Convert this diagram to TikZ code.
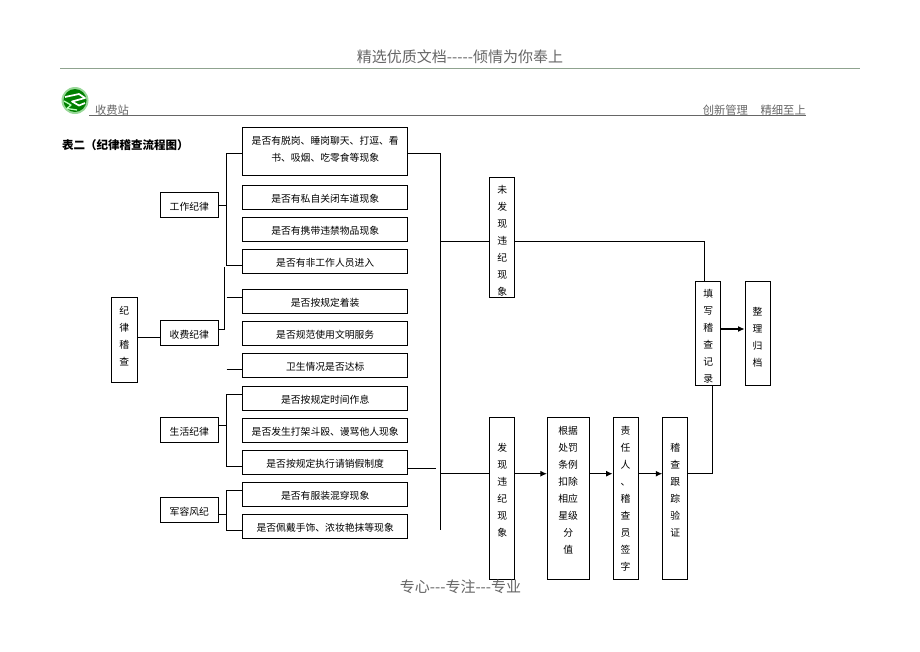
\documentclass[tikz,border=0pt]{standalone}
\usepackage{fontspec}
\setmainfont{Noto Sans CJK SC}
\usetikzlibrary{arrows.meta}
\newcommand\stk[3]{\parbox[c][#1pt][t]{20pt}{\centering\vspace*{#2pt}#3}}
\definecolor{hdr}{HTML}{666666}
\definecolor{rulegreen}{HTML}{8FA38F}
\tikzset{
  x=1pt,y=-1pt,
  bx/.style={draw=black,line width=0.9pt,fill=white,inner sep=0pt,align=center,font=\fontsize{9.8}{17}\selectfont},
  wide/.style={bx,minimum width=165pt,minimum height=24pt,text height=10.5pt,text depth=0pt},
  mid/.style={bx,minimum width=58pt,minimum height=24.5pt,text height=10.5pt,text depth=0pt},
  nar/.style={bx,minimum width=25pt},
  ln/.style={draw=black,line width=0.8pt},
  ar/.style={draw=black,line width=1.1pt,-{Latex[length=6.5pt,width=6pt]}},
  head/.style={inner sep=0pt,text=hdr,font=\fontsize{15}{17}\selectfont},
  small/.style={inner sep=0pt,text=hdr,font=\fontsize{11.3}{13}\selectfont},
}
\begin{document}
\begin{tikzpicture}
\useasboundingbox (0,0) rectangle (920,651);
\fill[white] (0,0) rectangle (920,651);
% page furniture
\node[head] (hd) at (460,57) {精选优质文档-{}-{}-{}-{}-倾情为你奉上};
\coordinate (ra) at (60,68.5); \coordinate (rb) at (860,68.5);
\draw[rulegreen,line width=0.9pt] (ra) -- (rb);
\coordinate (ua) at (89,115); \coordinate (ub) at (806,115);
\draw[hdr,line width=0.9pt] (ua) -- (ub);
\node[small] (st) at (112,110) {收费站};
\node[small,anchor=east] (mt) at (806,110) {创新管理\hspace{12.6pt}精细至上};
\node[inner sep=0pt,anchor=west,font=\fontsize{11.5}{13}\selectfont\bfseries] (title) at (62,145) {表二（纪律稽查流程图）};
% logo
\fill[green!45!gray!55!white] (75,100.5) circle (13.5);
\fill[green!50!black] (75,100.5) circle (11.5);
\draw[white,line width=1.7pt,line join=round] (65,97) -- (79,94) -- (85,98) -- (72,101.5) -- (79,105.5) -- (85,103);
\draw[green!25!white,line width=1.3pt,line join=round] (64,101) -- (71,105) -- (67,108.5) -- (77,110);
% checks
\node[bx,minimum width=165pt,minimum height=47.5pt] (b1) at (325.2,151.5) {\parbox[c][47.5pt][t]{160pt}{\centering\vspace*{8.5pt}是否有脱岗、睡岗聊天、打逗、看\\书、吸烟、吃零食等现象}};
\node[wide] (b2) at (325.2,197) {是否有私自关闭车道现象};
\node[wide] (b3) at (325.2,229.3) {是否有携带违禁物品现象};
\node[wide] (b4) at (325.2,261) {是否有非工作人员进入};
\node[wide] (b5) at (325.2,301) {是否按规定着装};
\node[wide] (b6) at (325.2,333) {是否规范使用文明服务};
\node[wide] (b7) at (325.2,365.5) {卫生情况是否达标};
\node[wide] (b8) at (325.2,398) {是否按规定时间作息};
\node[wide] (b9) at (325.2,430) {是否发生打架斗殴、谩骂他人现象};
\node[wide] (b10) at (325.2,462) {是否按规定执行请销假制度};
\node[wide] (b11) at (325.2,494) {是否有服装混穿现象};
\node[wide] (b12) at (325.2,526) {是否佩戴手饰、浓妆艳抹等现象};
% categories
\node[mid] (work) at (189.3,205) {工作纪律};
\node[mid] (fee) at (189.3,333) {收费纪律};
\node[mid] (life) at (189.3,430) {生活纪律};
\node[mid] (army) at (189.3,510) {军容风纪};
\node[bx,minimum width=26.5pt,minimum height=85pt] (root) at (124.2,339.5) {\stk{85}{9}{纪\\律\\稽\\查}};
% right side
\node[nar,minimum height=120pt] (no) at (502.3,237) {\stk{120}{8.5}{未\\发\\现\\违\\纪\\现\\象}};
\node[nar,minimum height=104.7pt] (rec) at (708.2,333.3) {\stk{104.7}{8.5}{填\\写\\稽\\查\\记\\录}};
\node[nar,minimum height=104.7pt] (arch) at (757.5,333.3) {\stk{104.7}{26}{整\\理\\归\\档}};
\node[nar,minimum height=162pt] (yes) at (502.2,498) {\stk{162}{26}{发\\现\\违\\纪\\现\\象}};
\node[bx,minimum width=41.7pt,minimum height=162pt] (rule) at (568.2,498) {\stk{162}{9}{根据\\处罚\\条例\\扣除\\相应\\星级\\分\\值}};
\node[nar,minimum height=162pt] (sign) at (625.5,498) {\stk{162}{9}{责\\任\\人\\、\\稽\\查\\员\\签\\字}};
\node[nar,minimum height=162pt] (trk) at (675.2,498) {\stk{162}{26}{稽\\查\\跟\\踪\\验\\证}};
% footer
\node[head] (ft) at (460.5,587) {专心-{}-{}-专注-{}-{}-专业};
% left connectors
\coordinate (aT) at (226,153); \coordinate (aB) at (226,265);
\draw[ln] (b1.west |- aT) -- (aT) -- (aB) -- (b4.west |- aB);
\draw[ln] (work.east) -- (aT |- work.east);
\coordinate (cT) at (224.7,267); \coordinate (cB) at (224.7,329);
\coordinate (c5) at (226.7,297); \coordinate (c7) at (226.7,369);
\draw[ln] (cT) -- (cB) -- (fee.east |- cB);
\draw[ln] (c5) -- (b5.west |- c5);
\draw[ln] (c7) -- (b7.west |- c7);
\coordinate (dT) at (226.5,394); \coordinate (dB) at (226.5,466);
\draw[ln] (b8.west |- dT) -- (dT) -- (dB) -- (b10.west |- dB);
\draw[ln] (life.east |- 0,425) -- (dT |- 0,425);
\coordinate (eT) at (226.5,490); \coordinate (eB) at (226.5,530);
\draw[ln] (b11.west |- eT) -- (eT) -- (eB) -- (b12.west |- eB);
\draw[ln] (army.east |- 0,514) -- (eT |- 0,514);
\coordinate (rf) at (137.5,337);
\draw[ln] (rf) -- (fee.west |- rf);
% right spine
\coordinate (sT) at (440.5,153); \coordinate (sB) at (440.5,530);
\draw[ln] (b1.east |- sT) -- (sT) -- (sB);
\coordinate (t10) at (436,468);
\draw[ln] (b10.east |- t10) -- (t10);
\coordinate (nY) at (440.5,241); \coordinate (yY) at (440.5,473.7);
\draw[ln] (nY) -- (no.west |- nY);
\coordinate (nc) at (704,241);
\draw[ln] (no.east |- nc) -- (nc) -- (nc |- rec.north);
\draw[ln,line width=1pt] (yY) -- (yes.west |- yY);
\draw[ar] (rec.east |- 0,329) -- (arch.west |- 0,329);
\draw[ar] (yes.east |- yY) -- (rule.west |- yY);
\draw[ar] (rule.east |- yY) -- (sign.west |- yY);
\draw[ar] (sign.east |- yY) -- (trk.west |- yY);
\coordinate (tc) at (712.3,473.7);
\draw[ln] (trk.east |- tc) -- (tc) -- (tc |- rec.south);
\end{tikzpicture}
\end{document}
